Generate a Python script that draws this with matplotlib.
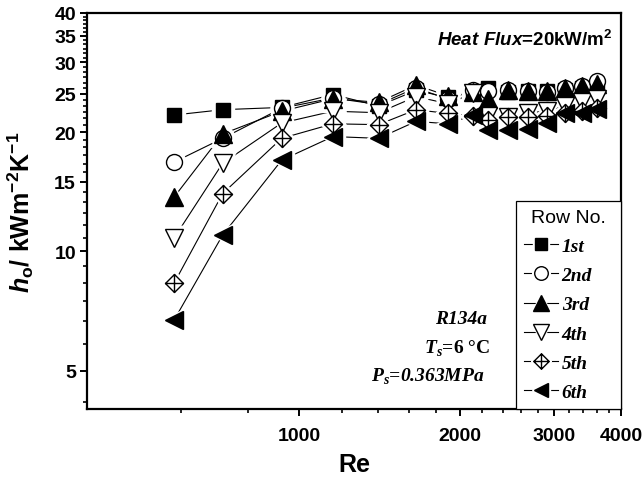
"""Row-by-row heat transfer coefficient vs Reynolds number (R134a)."""

import matplotlib

matplotlib.use("Agg")
import matplotlib.pyplot as plt
from matplotlib.lines import Line2D
from matplotlib.legend_handler import HandlerTuple
from matplotlib.path import Path
from matplotlib.ticker import FixedLocator, NullFormatter
import numpy as np

plt.rcParams["mathtext.fontset"] = "custom"
plt.rcParams["mathtext.rm"] = "Liberation Sans:bold"
plt.rcParams["mathtext.bf"] = "Liberation Sans:bold"
plt.rcParams["mathtext.it"] = "Liberation Sans:italic:bold"
plt.rcParams["mathtext.bfit"] = "Liberation Serif:italic:bold"

# data
re_vals = [582, 718, 926, 1155, 1406, 1653, 1897, 2116, 2254, 2460, 2683, 2904, 3142, 3381, 3614]

rows = ["1st", "2nd", "3rd", "4th", "5th", "6th"]
h_1st = [22.1, 22.8, 23.1, 24.9, 23.3, 25.5, 24.5, 25.2, 25.9, 25.3, 25.4, 25.4, 25.6, 25.8, 26.0]
h_2nd = [16.8, 19.3, 23.0, 24.4, 23.5, 25.9, 24.2, 25.6, 25.4, 25.6, 25.4, 25.3, 25.9, 26.2, 26.9]
h_3rd = [13.7, 19.8, 22.6, 24.3, 23.8, 26.3, 24.7, 25.2, 24.3, 25.6, 25.4, 25.4, 25.9, 26.1, 26.4]
h_4th = [10.8, 16.7, 21.1, 22.6, 22.4, 24.6, 23.6, 25.1, 22.0, 21.8, 22.4, 22.6, 23.3, 23.8, 24.3]
h_5th = [8.3, 14.0, 19.3, 21.0, 20.9, 22.8, 22.3, 22.0, 21.5, 21.9, 21.8, 22.0, 22.4, 22.6, 23.0]
h_6th = [6.7, 11.0, 17.0, 19.5, 19.3, 21.3, 21.0, 22.1, 20.2, 20.2, 20.4, 21.1, 22.3, 22.4, 22.9]
series = [h_1st, h_2nd, h_3rd, h_4th, h_5th, h_6th]

x_major = [1000, 2000, 3000, 4000]
y_major = [5, 10, 15, 20, 25, 30, 35, 40]

# diamond with a cross inside (5th row marker)
cross_diamond = Path(
    [(0, 1), (1, 0), (0, -1), (-1, 0), (0, 1), (0, 1), (0, -1), (-1, 0), (1, 0)],
    [Path.MOVETO, Path.LINETO, Path.LINETO, Path.LINETO, Path.CLOSEPOLY,
     Path.MOVETO, Path.LINETO, Path.MOVETO, Path.LINETO],
)
markers = ["s", "o", "^", "v", cross_diamond, "<"]
faces = ["k", "w", "k", "w", "w", "k"]
sizes = [10.5, 11.5, 13, 13, 13, 12.5]

fig = plt.figure(figsize=(6.44, 4.81), dpi=100)
ax = fig.add_axes([87 / 644, 71 / 481, 534 / 644, 396 / 481])
ax.set_xscale("log")
ax.set_yscale("log")

handles = []
for vals, mk, fc, ms in zip(series, markers, faces, sizes):
    ax.plot(re_vals, vals, "-", color="k", lw=0.8, zorder=2)
    ax.plot(re_vals, vals, ls="none", marker=mk, ms=ms + 5, mfc="w", mec="w", zorder=3)
for vals, mk, fc, ms in zip(series, markers, faces, sizes):
    ax.plot(re_vals, vals, ls="none", marker=mk, ms=ms, mfc=fc, mec="k", mew=1.0, zorder=4)
    # legend entry: line broken around the marker
    ln = Line2D([], [], color="k", lw=0.8)
    halo = Line2D([], [], ls="none", marker=mk, ms=ms * 0.85 + 3, mfc="w", mec="w")
    mark = Line2D([], [], ls="none", marker=mk, ms=ms * 0.85, mfc=fc, mec="k", mew=1.0)
    handles.append((ln, halo, mark))

ax.set_xlim(400, 4000)
ax.set_ylim(4, 40)
ax.xaxis.set_major_locator(FixedLocator(x_major))
ax.xaxis.set_minor_locator(FixedLocator(np.arange(600, 4000, 200)))
ax.yaxis.set_major_locator(FixedLocator(y_major))
ax.yaxis.set_minor_locator(FixedLocator(np.arange(5 - 5 / 6, 40, 5 / 6)))
ax.set_xticklabels([str(v) for v in x_major])
ax.set_yticklabels([str(v) for v in y_major])
ax.xaxis.set_minor_formatter(NullFormatter())
ax.yaxis.set_minor_formatter(NullFormatter())

for lab in ax.get_xticklabels() + ax.get_yticklabels():
    lab.set_fontfamily("Liberation Sans")
    lab.set_fontweight("bold")
    lab.set_fontsize(14)

ax.tick_params(which="major", direction="out", length=5, width=1.4, pad=3)
ax.tick_params(axis="x", which="major", pad=8)
ax.tick_params(which="minor", direction="out", length=3, width=1.2)
ax.tick_params(top=False, right=False, which="both")
for sp in ax.spines.values():
    sp.set_linewidth(1.6)

ax.set_xlabel("Re", fontfamily="Liberation Sans", fontweight="bold", fontsize=18)
ax.set_ylabel(r"$\it{h}_{\rm{o}}\rm{/\ kWm^{-2}K^{-1}}$", fontfamily="Liberation Sans",
              fontsize=18)
ax.xaxis.set_label_coords(0.5, -0.108)
ax.yaxis.set_label_coords(-0.095, 0.5)

ax.text(0.985, 0.935, r"$\it{Heat\ Flux}$=20kW/m$^{2}$", transform=ax.transAxes,
        ha="right", va="center", fontsize=13.5, fontfamily="Liberation Sans",
        fontweight="bold")

serif = dict(fontfamily="Liberation Serif", fontweight="bold", fontsize=14,
             transform=ax.transAxes, ha="right", va="center")
ax.text(0.749, 0.228, "R134a", fontstyle="italic", **serif)
ax.text(0.755, 0.157, r"$\mathbfit{T}_{\mathbfit{s}}$=6 °C", **serif)
ax.text(0.745, 0.087, r"$\mathbfit{P}_{\mathbfit{s}}$=0.363MPa", fontstyle="italic", **serif)

leg = ax.legend(handles, rows, handler_map={tuple: HandlerTuple(ndivide=1)},
                loc="lower left", bbox_to_anchor=((516 - 87) / 534, 0, 105 / 534, 1),
                mode="expand", borderaxespad=0, numpoints=1,
                title="Row No.", fancybox=False, edgecolor="k", framealpha=1,
                handlelength=1.75, handletextpad=0.2, labelspacing=0.6,
                borderpad=0.4,
                prop=dict(family="Liberation Serif", weight="bold", style="italic", size=14))
leg.get_title().set_fontfamily("Liberation Sans")
leg.get_title().set_fontsize(14)
leg.get_frame().set_linewidth(0.9)
leg.set_zorder(5)

fig.savefig("out.png", dpi=100)
